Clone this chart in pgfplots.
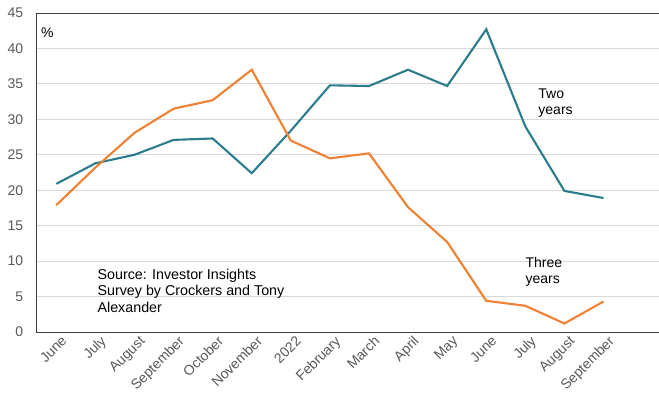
\documentclass[border=0pt]{standalone}
\usepackage{pgfplots}
\pgfplotsset{compat=1.18}
\usepackage{fontspec}
\setmainfont{Liberation Sans}
\definecolor{teal2}{RGB}{42,125,140}
\definecolor{orange2}{RGB}{240,128,50}
\definecolor{tickgray}{RGB}{89,89,89}
\definecolor{gridgray}{RGB}{217,217,217}
\definecolor{axisgray}{RGB}{64,64,64}
\begin{document}
\fontsize{14bp}{16.7bp}\selectfont
\begin{tikzpicture}
\useasboundingbox (-36bp,-71bp) rectangle (623bp,332bp);
\begin{axis}[
  at={(0,0)}, anchor=south west,
  scale only axis, width=623bp, height=319bp,
  xmin=-0.52, xmax=15.42, ymin=0, ymax=45,
  axis y line*=left, axis x line*=bottom,
  axis line style={axisgray, line width=0.9bp},
  ytick={0,5,...,40},
  extra y ticks={45},
  extra y tick style={grid=major, grid style={axisgray, line width=0.9bp}},
  ymajorgrids, grid style={gridgray, line width=0.8bp},
  major tick length=0pt,
  /pgf/number format/assume math mode=true,
  ticklabel style={font=\fontsize{14bp}{16.7bp}\selectfont, text=tickgray},
  yticklabel style={xshift=-8bp},
  xtick={0,...,14},
  xticklabels={June,July,August,September,October,November,2022,February,March,April,May,June,July,August,September},
  xticklabel style={rotate=45, anchor=north east, inner sep=1bp, yshift=-4bp, xshift=2bp},
  clip=false,
]
\addplot[teal2, line width=2.1bp] coordinates {
(0,20.9) (1,23.8) (2,25.0) (3,27.1) (4,27.3) (5,22.4) (6,28.4) (7,34.8) (8,34.7) (9,37.0) (10,34.7) (11,42.7) (12,29.0) (13,19.9) (14,18.9)};
\addplot[orange2, line width=2.1bp] coordinates {
(0,17.9) (1,23.2) (2,28.1) (3,31.5) (4,32.7) (5,37.0) (6,27.0) (7,24.5) (8,25.2) (9,17.6) (10,12.7) (11,4.4) (12,3.7) (13,1.2) (14,4.3)};
\node[anchor=center, font=\fontsize{14bp}{16.7bp}\selectfont] at (axis cs:-0.23,42.2) {\%};
\node[anchor=west, align=left, inner sep=0pt, font=\fontsize{14bp}{16.7bp}\selectfont] at (axis cs:12.33,32.3) {Two\\years};
\node[anchor=west, align=left, inner sep=0pt, font=\fontsize{14bp}{16.7bp}\selectfont] at (axis cs:12.0,8.46) {Three\\years};
\node[anchor=west, align=left, inner sep=0pt, font=\fontsize{14.3bp}{16.7bp}\selectfont] at (axis cs:1.05,5.8) {Source: Investor Insights\\Survey by Crockers and Tony\\Alexander};
\end{axis}
\end{tikzpicture}
\end{document}
